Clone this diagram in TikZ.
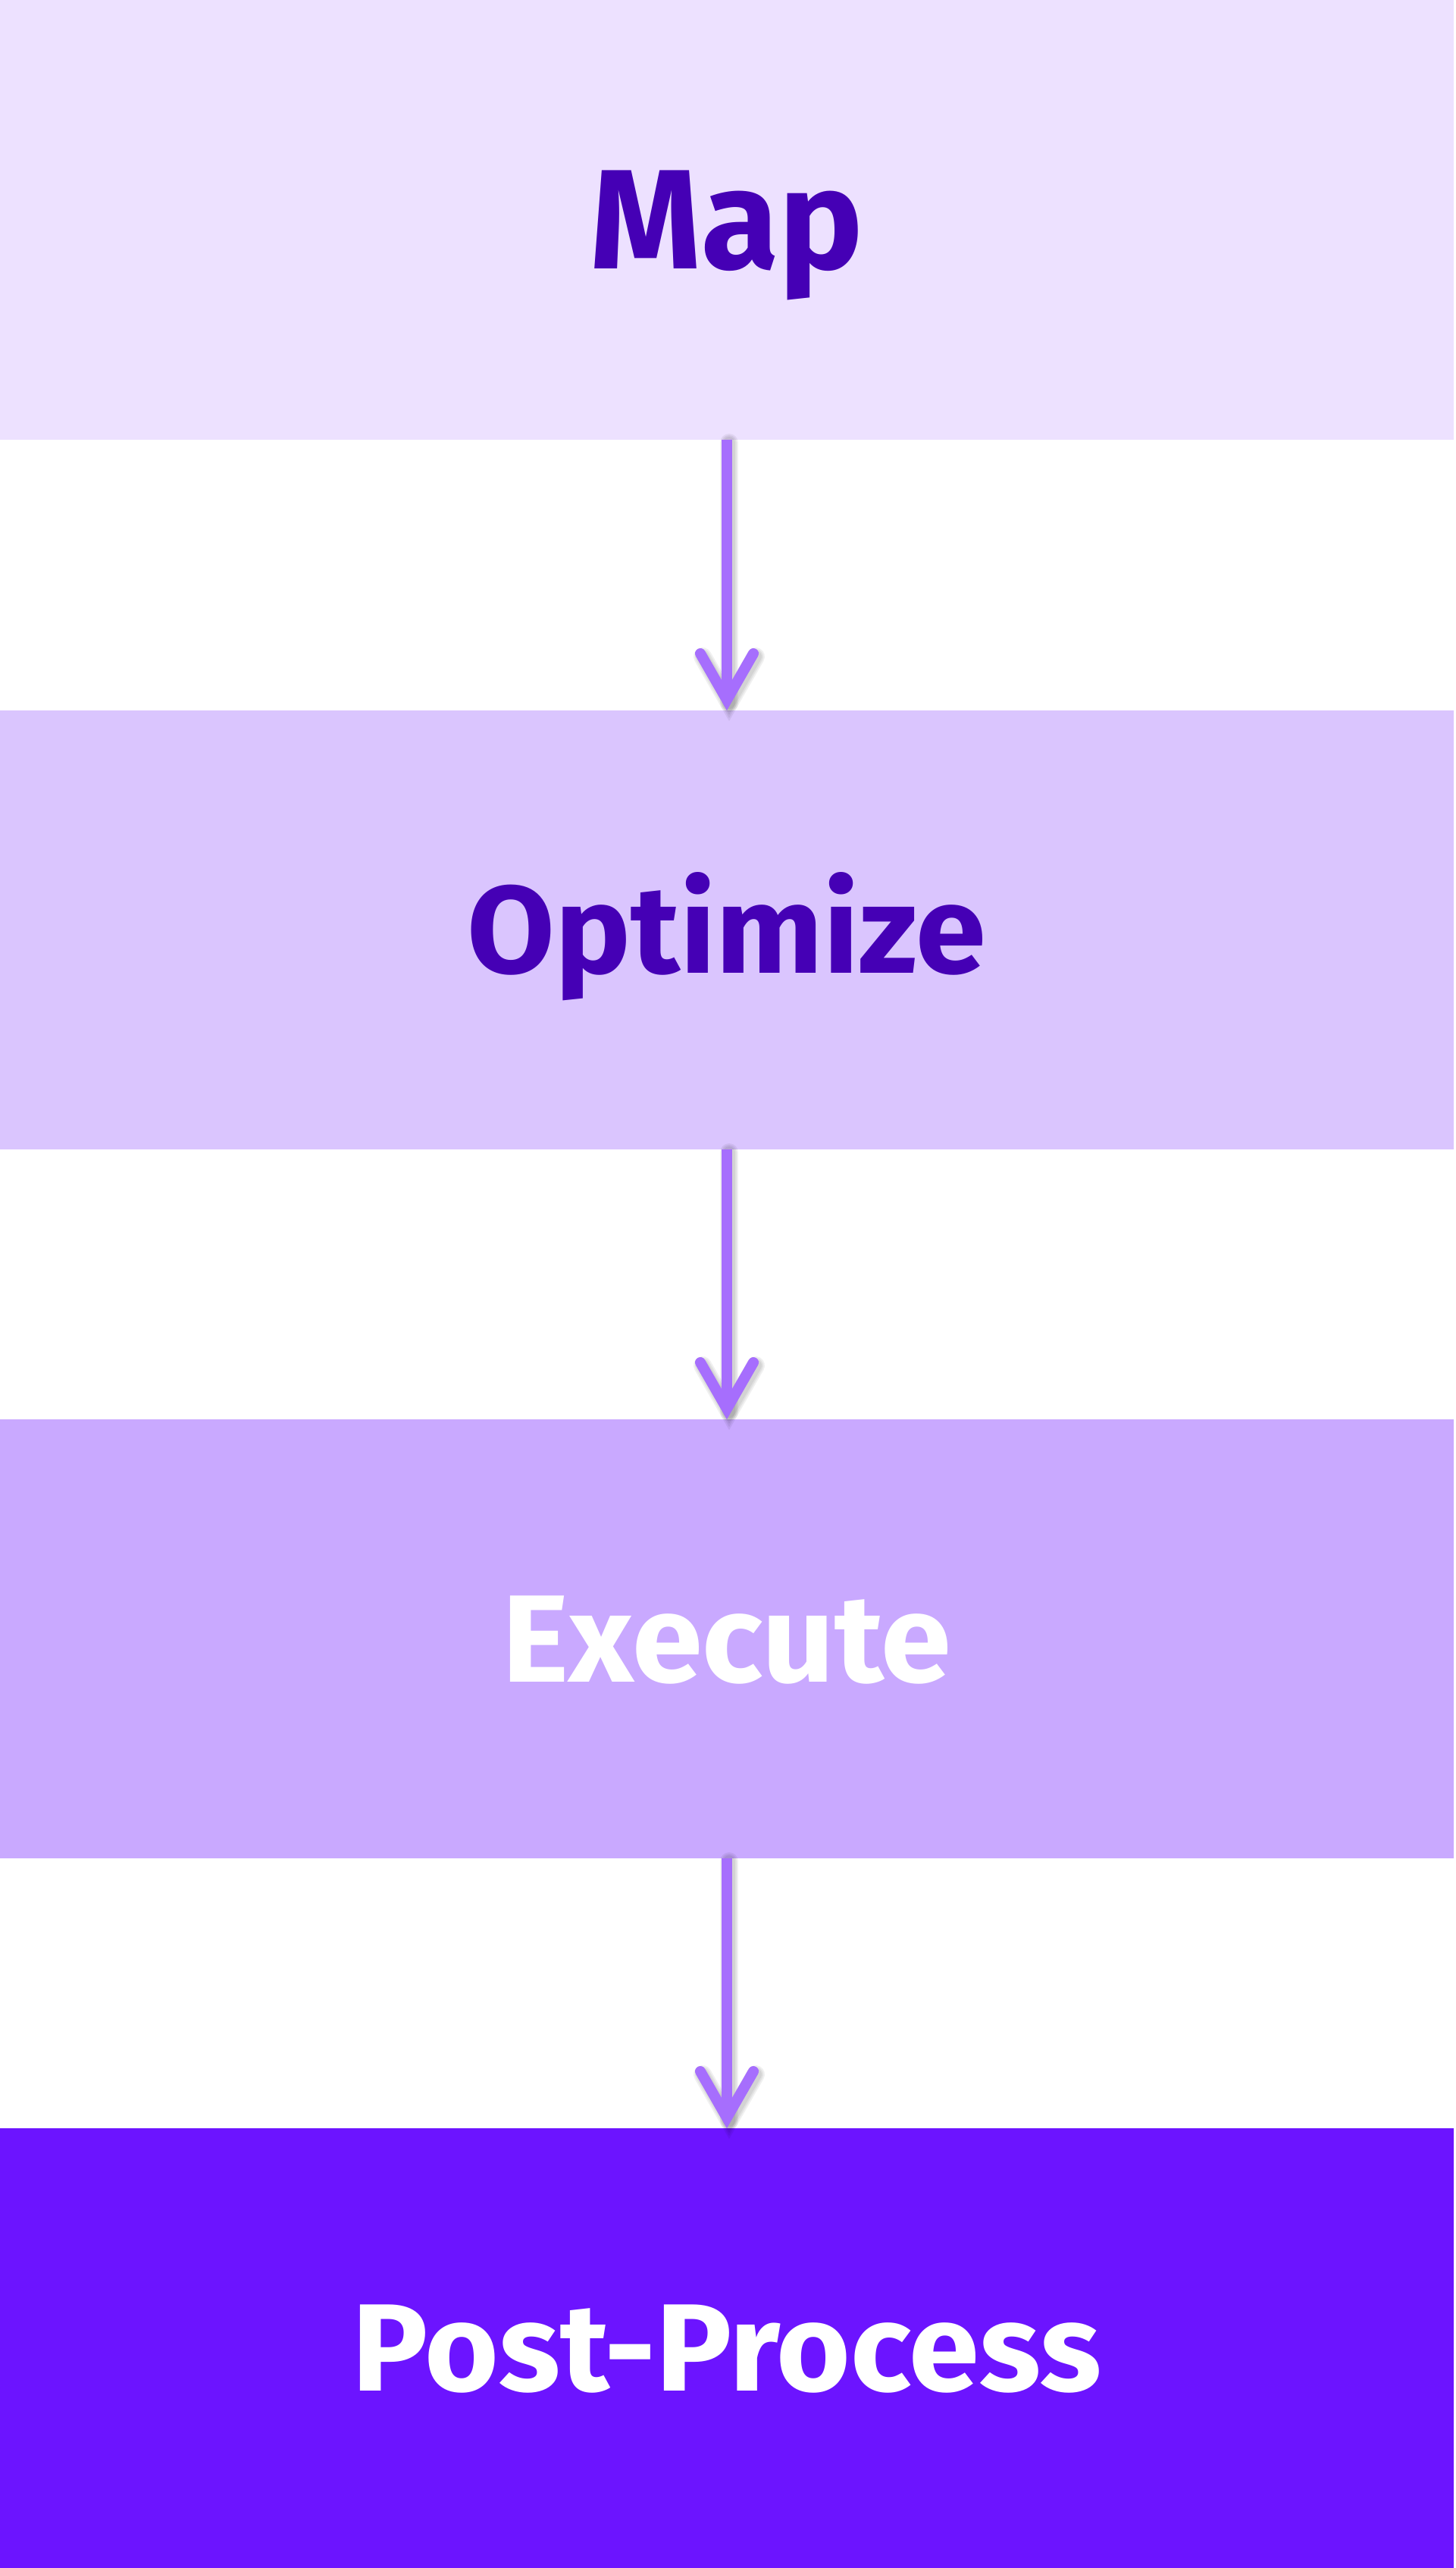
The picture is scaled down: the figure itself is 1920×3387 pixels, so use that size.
\documentclass[tikz,border=0pt]{standalone}
\usepackage{fontspec}
\setmainfont{Fira Sans}
\newfontfamily\stagefont{Fira Sans}[FakeStretch=1.022]
\usetikzlibrary{positioning}
\definecolor{boxa}{HTML}{EDE1FF}
\definecolor{boxb}{HTML}{DAC5FE}
\definecolor{boxc}{HTML}{C9A9FF}
\definecolor{boxd}{HTML}{6C14FF}
\definecolor{txtdark}{HTML}{4500B5}
\definecolor{arrowc}{HTML}{A66EFD}
\tikzset{
  stage/.style={rectangle, inner sep=0pt, outer sep=0pt, minimum width=1918pt, minimum height=580pt,
    anchor=north west, font=\stagefont\bfseries\fontsize{164}{164}\selectfont, text height=113pt, text depth=0pt},
  bigstage/.style={stage, font=\bfseries\fontsize{187}{187}\selectfont, text height=129pt},
  arr/.style={draw=arrowc, line width=14pt, line cap=round, line join=miter},
  arrshadow/.style={draw=black, line cap=round, line join=miter, opacity=0.06},
}
\newcommand{\stagearrow}[2]{%
  \foreach \w in {24,20,16}{%
    \draw[arrshadow, line width=\w pt, transform canvas={shift={(3pt,-4pt)}}] (#1.south) -- ([yshift=14pt]#2.north);
    \draw[arrshadow, line width=\w pt, transform canvas={shift={(3pt,-4pt)}}] ([shift={(-35pt,75pt)}]#2.north) -- ([yshift=14pt]#2.north) -- ([shift={(35pt,75pt)}]#2.north);
  }
  \draw[arr, line cap=butt] (#1.south) -- ([yshift=20pt]#2.north);
  \draw[arr] ([shift={(-35pt,75pt)}]#2.north) -- ([yshift=14pt]#2.north) -- ([shift={(35pt,75pt)}]#2.north);
}
\begin{document}
\begin{tikzpicture}[x=1pt,y=-1pt]
  \fill[white] (0,0) rectangle (1920,3387);
  \useasboundingbox (0,0) rectangle (1920,3387);
  \node[bigstage, fill=boxa, text=txtdark] (map) at (0,0) {Map};
  \node[stage, fill=boxb, text=txtdark, minimum height=579pt] (opt) at (0,937) {Optimize};
  \node[stage, fill=boxc, text=white, minimum height=579pt] (exe) at (0,1872) {Execute};
  \node[stage, fill=boxd, text=white] (post) at (0,2807) {Post-Process};
  \stagearrow{map}{opt}
  \stagearrow{opt}{exe}
  \stagearrow{exe}{post}
\end{tikzpicture}
\end{document}
